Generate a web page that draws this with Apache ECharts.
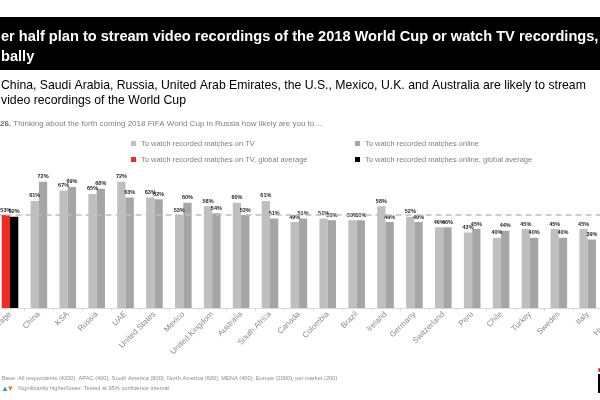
<!DOCTYPE html>
<html><head><meta charset="utf-8">
<script src="https://cdn.jsdelivr.net/npm/echarts@6/dist/echarts.min.js"></script>
<style>html,body{margin:0;padding:0;background:#fff}#c{width:600px;height:400px}</style>
</head><body><div id="c"></div>
<script>
const categories = ['Global average','China','KSA','Russia','UAE','United States','Mexico','United Kingdom','Australia','South Africa','Canada','Colombia','Brazil','Ireland','Germany','Switzerland','Peru','Chile','Turkey','Sweden','Italy','Hungary'];
const tvValues =     [null,61,67,65,72,63,53,58,60,61,49,51,50,58,52,46,43,40,45,45,45,44];
const onlineValues = [null,72,69,68,63,62,60,54,53,51,51,50,50,49,49,46,45,44,40,40,39,38];
const tvGlobalValue = 53;
const onlineGlobalValue = 52;
const globalLineValue = 53;
const seriesNames = ['To watch recorded matches on TV','To watch recorded matches online','To watch recorded matches on TV, global average','To watch recorded matches online, global average'];
const titleLines = ['er half plan to stream video recordings of the 2018 World Cup or watch TV recordings,','bally'];
const subtitleLines = ['China, Saudi Arabia, Russia, United Arab Emirates, the U.S., Mexico, U.K. and Australia are likely to stream','video recordings of the World Cup'];
const questionNum = '26.';
const questionText = ' Thinking about the forth coming 2018 FIFA World Cup in Russia how likely are you to…';
const baseText = 'Base: All respondents (4200), APAC (400), South America (800), North America (600), MENA (400), Europe (2000), per market (200)';
const sigText = 'Significantly higher/lower. Tested at 95% confidence interval.';

const tvGlobal = categories.map((c,i)=> i===0 ? tvGlobalValue : null);
const onlineGlobal = categories.map((c,i)=> i===0 ? onlineGlobalValue : null);

const FF = '"Liberation Sans", Arial, sans-serif';
const chart = echarts.init(document.getElementById('c'));
const lbl = {show:true, position:'top', distance:2, fontSize:5.5, fontWeight:'bold', color:'#262626', fontFamily:FF, formatter:'{c}%'};
const BW = 8.3;
const legendText = {color:'#808080', fontSize:7.5, fontFamily:FF};
chart.setOption({
  animation:false,
  textStyle:{fontFamily:FF},
  grid:{left:-4.44, right:-31.06, top:132.5, bottom:92, outerBoundsMode:'none', containLabel:false},
  legend:[
    {orient:'vertical', left:131, top:139.5, padding:0, itemGap:8, itemWidth:5, itemHeight:5, icon:'rect',
     data:[seriesNames[0], seriesNames[2]], textStyle:legendText, selectedMode:false},
    {orient:'vertical', left:355, top:139.5, padding:0, itemGap:8, itemWidth:5, itemHeight:5, icon:'rect',
     data:[seriesNames[1], seriesNames[3]], textStyle:legendText, selectedMode:false}
  ],
  xAxis:{type:'category', data:categories,
    axisLine:{lineStyle:{color:'#d9d9d9', width:1}},
    axisTick:{show:true, length:3, lineStyle:{color:'#d9d9d9'}},
    axisLabel:{rotate:45, fontSize:8, color:'#8a8a8a', margin:5, fontFamily:FF, interval:0}},
  yAxis:{type:'value', min:0, max:100, show:false, splitLine:{show:false}},
  series:[
    {name:seriesNames[0], type:'bar', stack:'tv', data:tvValues, barWidth:BW, barGap:'0%', itemStyle:{color:'#bfbfbf'}, label:lbl,
     markLine:{silent:true, symbol:'none', label:{show:false}, lineStyle:{color:'#bfbfbf', type:[6,4], width:1.5},
       data:[{yAxis:globalLineValue}]}},
    {name:seriesNames[1], type:'bar', stack:'online', data:onlineValues, barWidth:BW, barGap:'0%', itemStyle:{color:'#a5a5a5'}, label:lbl},
    {name:seriesNames[2], type:'bar', stack:'tv', data:tvGlobal, barWidth:BW, barGap:'0%', itemStyle:{color:'#ee2a24'}, label:lbl},
    {name:seriesNames[3], type:'bar', stack:'online', data:onlineGlobal, barWidth:BW, barGap:'0%', itemStyle:{color:'#000000'}, label:lbl}
  ],
  graphic:[
    {type:'rect', shape:{x:0,y:17,width:600,height:53}, style:{fill:'#000'}},
    {type:'text', style:{x:1, y:37, text:titleLines[0], fill:'#fff', font:'bold 14.6px '+FF, verticalAlign:'middle'}},
    {type:'text', style:{x:1, y:57, text:titleLines[1], fill:'#fff', font:'bold 14.6px '+FF, verticalAlign:'middle'}},
    {type:'text', style:{x:1, y:86, text:subtitleLines[0], fill:'#000', font:'12.25px '+FF, verticalAlign:'middle'}},
    {type:'text', style:{x:1, y:101, text:subtitleLines[1], fill:'#000', font:'12.25px '+FF, verticalAlign:'middle'}},
    {type:'text', style:{x:0, y:124, text:'{b|'+questionNum+'}{n|'+questionText+'}', verticalAlign:'middle',
      rich:{b:{fontWeight:'bold', fontSize:8, fill:'#666', fontFamily:FF}, n:{fontSize:8, fill:'#808080', fontFamily:FF}}}},
    {type:'text', style:{x:2, y:378, text:baseText, fill:'#8c8c8c', font:'5.7px '+FF, verticalAlign:'middle'}},
    {type:'polygon', shape:{points:[[2.7,391],[5,386.5],[7.3,391]]}, style:{fill:'#1aa6a6'}},
    {type:'polygon', shape:{points:[[8,386.5],[12.7,386.5],[10.35,391]]}, style:{fill:'#f07c24'}},
    {type:'text', style:{x:18, y:388.5, text:sigText, fill:'#8c8c8c', font:'5.7px '+FF, verticalAlign:'middle'}},
    {type:'circle', shape:{cx:600, cy:370, r:2}, style:{fill:'#e8251f'}},
    {type:'polyline', shape:{points:[[603,375],[599,375],[599,392],[603,392]]}, style:{stroke:'#000', lineWidth:2, fill:null}}
  ]
});
</script></body></html>
